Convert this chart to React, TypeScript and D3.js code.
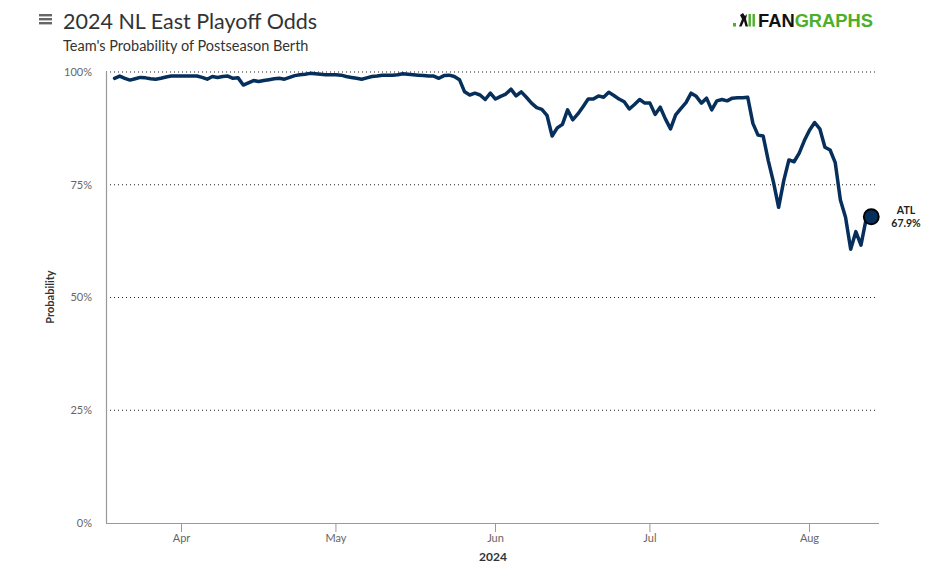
import * as React from 'react'
import * as d3 from 'd3'

// ATL daily playoff odds (%), Mar 19 – Aug 13 2024
const startDate = new Date(2024, 2, 19)
const atlOdds = [
  98.6, 99.1, 98.6, 98.2, 98.5, 98.8, 98.7, 98.5, 98.4, 98.6, 98.9, 99.1, 99.1,
  99.1, 99.1, 99.1, 99.1, 98.8, 98.4, 99.0, 98.8, 99.0, 99.1, 98.6, 98.7, 97.1,
  97.6, 98.1, 97.9, 98.1, 98.3, 98.5, 98.6, 98.4, 98.8, 99.2, 99.4, 99.5, 99.7,
  99.6, 99.5, 99.4, 99.4, 99.4, 99.3, 99.0, 98.8, 98.6, 98.4, 98.7, 99.0, 99.1,
  99.3, 99.3, 99.3, 99.4, 99.6, 99.5, 99.4, 99.3, 99.2, 99.1, 99.1, 98.6, 99.2,
  99.3, 99.0, 98.3, 95.6, 94.9, 95.3, 94.9, 93.9, 95.3, 94.0, 94.6, 95.1, 96.2,
  94.7, 95.6, 94.4, 93.1, 92.1, 91.7, 90.4, 85.8, 87.6, 88.4, 91.6, 89.4, 90.7,
  92.3, 94.0, 94.0, 94.7, 94.4, 95.5, 94.8, 94.0, 93.4, 91.8, 92.8, 93.9, 93.1,
  93.1, 90.6, 92.2, 89.6, 87.4, 90.5, 91.9, 93.2, 95.3, 94.6, 93.1, 94.2, 91.6,
  93.6, 93.9, 93.6, 94.2, 94.3, 94.3, 94.4, 88.6, 86.0, 85.8, 80.3, 75.6, 70.0,
  75.9, 80.5, 80.1, 82.0, 84.8, 87.1, 88.8, 87.4, 83.3, 82.7, 79.9, 71.6, 67.8,
  60.7, 64.6, 61.6, 67.4, 67.9,
]
const teamLabel = 'ATL'
const yTicks = [0, 25, 50, 75, 100]
const monthTicks = [
  new Date(2024, 3, 1),
  new Date(2024, 4, 1),
  new Date(2024, 5, 1),
  new Date(2024, 6, 1),
  new Date(2024, 7, 1),
]

const W = 942
const H = 581
const font = 'Lato, "Open Sans", sans-serif'
const navy = '#062f5c'

export default function App() {
  const data = atlOdds.map((v, i) => ({ date: d3.timeDay.offset(startDate, i), v }))

  const x = d3
    .scaleTime()
    .domain([new Date(2024, 2, 17, 8), new Date(2024, 7, 14, 12)])
    .range([106, 879])
  const y = d3.scaleLinear().domain([0, 100]).range([523, 72])

  const line = d3
    .line<{ date: Date; v: number }>()
    .x((d) => x(d.date))
    .y((d) => y(d.v))
    .curve(d3.curveLinear)

  const last = data[data.length - 1]
  const lx = x(last.date)
  const ly = y(last.v)
  const fmt = d3.timeFormat('%b')

  return (
    <div style={{ position: 'fixed', left: 0, top: 0 }}>
      <svg width={W} height={H} style={{ display: 'block', background: '#fff' }}>
        {/* header */}
        <g fill="#666">
          <rect x={39} y={14} width={13} height={2.4} />
          <rect x={39} y={18} width={13} height={2.4} />
          <rect x={39} y={22} width={13} height={2.4} />
        </g>
        <text x={63} y={29} fontFamily={font} fontSize={21.5} fill="#333">
          2024 NL East Playoff Odds
        </text>
        <text x={63} y={50.5} fontFamily={font} fontSize={14.5} fill="#333">
          Team's Probability of Postseason Berth
        </text>

        {/* logo */}
        <g>
          <rect x={733} y={23} width={3} height={3.5} fill="#4caf2a" />
          <path d="M739 26.5 L742 19 L740 15 L743 13 L745 16 L747 14 L746 19 L748 26.5 L745.5 26.5 L744 21 L741.5 26.5 Z" fill="#111" />
          <rect x={748.5} y={14} width={2.4} height={12.5} fill="#4caf2a" />
          <rect x={752.5} y={14} width={2.4} height={12.5} fill="#4caf2a" />
          <text x={758} y={26.7} fontFamily="Liberation Sans, Arial, sans-serif" fontWeight="bold" fontSize={18.5} textLength={115} lengthAdjust="spacingAndGlyphs">
            <tspan fill="#111">FAN</tspan>
            <tspan fill="#4caf2a">GRAPHS</tspan>
          </text>
        </g>

        {/* grid */}
        {yTicks.map((t) => (
          <g key={t}>
            {t > 0 && (
              <line x1={106} x2={877} y1={y(t)} y2={y(t)} stroke="#222" strokeWidth={1} strokeDasharray="1,3" />
            )}
            <text x={92} y={y(t)} dy="0.35em" textAnchor="end" fontFamily={font} fontSize={11} fill="#666">
              {t}%
            </text>
          </g>
        ))}

        {/* axes */}
        <line x1={106.5} x2={106.5} y1={72} y2={523} stroke="#999" strokeWidth={1.2} />
        <line x1={106} x2={879} y1={523.5} y2={523.5} stroke="#999" strokeWidth={1.2} />
        {monthTicks.map((m) => (
          <g key={m.getTime()} transform={`translate(${x(m)},0)`}>
            <line y1={523} y2={532} stroke="#999" strokeWidth={1} />
            <text y={541.5} textAnchor="middle" fontFamily={font} fontSize={11} fill="#666">
              {fmt(m)}
            </text>
          </g>
        ))}
        <text x={493} y={561} textAnchor="middle" fontFamily={font} fontSize={12} fontWeight="bold" fill="#333">
          2024
        </text>
        <text
          transform="translate(54,297) rotate(-90)"
          textAnchor="middle"
          fontFamily={font}
          fontSize={11}
          fontWeight="bold"
          fill="#333"
        >
          Probability
        </text>

        {/* series */}
        <path d={line(data) ?? ''} fill="none" stroke={navy} strokeWidth={3.5} strokeLinejoin="round" strokeLinecap="round" />
        <circle cx={lx} cy={ly} r={7.5} fill={navy} stroke="#000" strokeWidth={1.8} />
        <text x={906} y={ly - 3} textAnchor="middle" fontFamily={font} fontSize={10.5} fontWeight="bold" fill="#222">
          {teamLabel}
        </text>
        <text x={906} y={ly + 10} textAnchor="middle" fontFamily={font} fontSize={10.5} fontWeight="bold" fill="#222">
          {last.v.toFixed(1)}%
        </text>
      </svg>
    </div>
  )
}
